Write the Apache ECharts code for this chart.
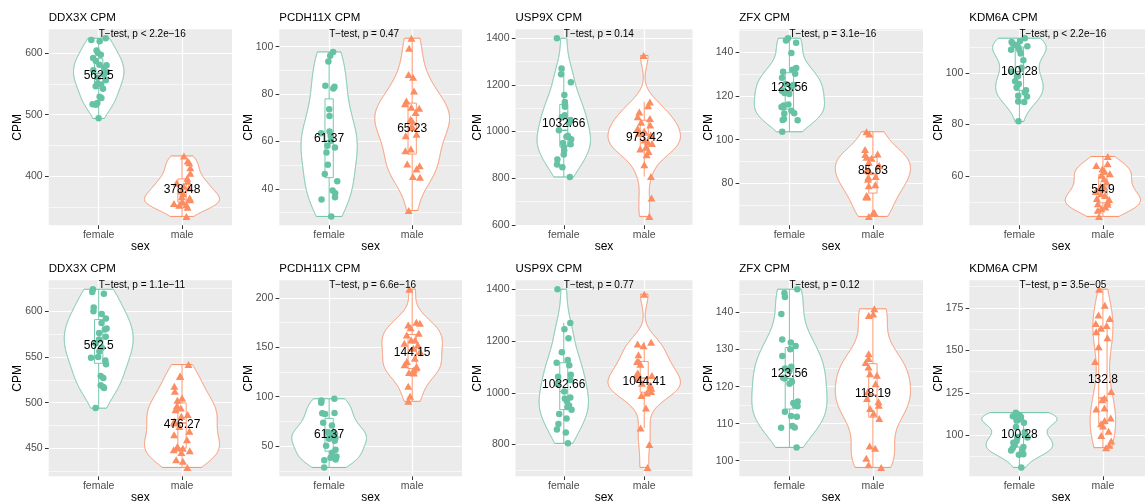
<!DOCTYPE html>
<html>
<head>
<meta charset="utf-8">
<script src="https://cdn.jsdelivr.net/npm/echarts@6/dist/echarts.min.js"></script>
<style>
  html, body { margin: 0; padding: 0; background: #ffffff; }
  #chart { width: 1145px; height: 502px; }
</style>
</head>
<body>
<div id="chart"></div>
<script>
// ---- data -------------------------------------------------------------
const genes = ['DDX3X', 'PCDH11X', 'USP9X', 'ZFX', 'KDM6A'];
const sexes = ['female', 'male'];

// female samples (shared by both rows)
const femaleDDX3X = [624, 621, 619, 604, 600, 597, 592, 587, 581, 580, 576, 572, 569, 565, 560, 556, 550, 549, 546, 542, 529, 527, 519, 517, 516, 494];
const femalePCDH11X = [97.8, 96.2, 93.8, 83.5, 83.1, 82.4, 73.6, 70.8, 64.2, 63.5, 62.4, 60.3, 58.2, 57.5, 55.4, 50.2, 46.3, 43.2, 39.3, 38.2, 36.5, 35.5, 28.4];
const femaleUSP9X = [1400, 1270, 1245, 1211, 1157, 1127, 1116, 1106, 1070, 1062, 1049, 1035, 1005, 982, 978, 967, 951, 945, 935, 918, 901, 880, 858, 847, 805];
const femaleZFX = [146.3, 145.3, 144.2, 139.6, 132.7, 131.9, 131, 130.1, 128.3, 125.4, 124.9, 124.2, 122.4, 122.2, 121.3, 120.8, 116, 115.6, 114.9, 114.7, 113.2, 112.1, 111.9, 109.4, 109, 108.9, 103.6];
const femaleKDM6A = [113.4, 112.3, 111.9, 111.3, 110.8, 110.3, 110, 108.9, 108.8, 107.5, 104.9, 102, 100.5, 98.8, 98.6, 96.7, 95.7, 94.3, 93.2, 92.4, 91.1, 90.8, 88.9, 88.7, 81.2];

// male samples, top row
const maleDDX3X_top = [433, 425, 422, 414, 405, 397, 392, 389, 384, 381, 376, 372, 367, 365, 362, 359, 358, 356, 354, 353, 350, 335];
const malePCDH11X_top = [103.6, 99.4, 88.3, 87.1, 81.3, 77.1, 75.9, 74.5, 74.0, 72.2, 69.4, 68.7, 66.6, 65.9, 63.1, 62.4, 56.8, 56.1, 50.5, 49.8, 48.4, 45.2, 44.9, 30.9];
const maleUSP9X_top = [1326, 1127, 1110, 1084, 1063, 1056, 1040, 1028, 1013, 1002, 992, 985, 964, 956, 949, 935, 925, 914, 900, 857, 807, 715, 636];
const maleZFX_top = [103.6, 102.6, 95.5, 93.5, 93.2, 92, 91.5, 89.7, 88.2, 86, 85.6, 83.2, 82.9, 82, 79.4, 79, 74.5, 74, 73.8, 66.8, 66.5, 65];
const maleKDM6A_top = [67.6, 64.8, 64.1, 62.8, 62.2, 60.9, 60.3, 59, 57.7, 56, 55.8, 54, 53.2, 52.5, 51.3, 50.9, 50, 49.3, 49.1, 48, 47.4, 46.8, 44.4];

// male samples, bottom row
const maleDDX3X_bottom = [541.6, 528.8, 528.8, 517.9, 512.4, 505, 502.6, 496.7, 494.2, 492.3, 486.9, 485, 479.6, 477.7, 474, 468.6, 465, 459.5, 452, 450.4, 450, 448.5, 447.4, 445.6, 437.6, 435.8, 429.2];
const malePCDH11X_bottom = [208.7, 175.2, 174.2, 172.5, 169.8, 164.1, 162.4, 157.4, 157.4, 154, 152.3, 149, 145.6, 138.9, 135.6, 132.2, 130, 128.9, 127, 124.5, 123.8, 110.4, 100.3, 95.3];
const maleUSP9X_bottom = [1380.7, 1195.6, 1188, 1181.5, 1146.8, 1121, 1121, 1110, 1076, 1069.7, 1067, 1057, 1037, 1030, 1020.8, 1018, 1005.4, 999, 990, 941, 864, 800, 712];
const maleZFX_bottom = [141, 139.6, 139.2, 128.9, 127.6, 126.5, 125.3, 123.5, 123.1, 120.8, 118.6, 116.8, 115.9, 115, 114.1, 112.8, 111.4, 104, 103.4, 100.7, 98.9, 98.2];
const maleKDM6A_bottom = [186, 176.6, 170.8, 168.8, 165.9, 164.6, 163, 161, 157.5, 152.2, 143.5, 125.9, 122, 121, 116.2, 115.6, 110.3, 108.8, 106.8, 105.5, 102.5, 100, 96.7, 94.2, 92.8];

// group means printed on the violins
const femaleMeans = [562.5, 61.37, 1032.66, 123.56, 100.28];
const maleMeansTop = [378.48, 65.23, 973.42, 85.63, 54.9];
const maleMeansBottom = [476.27, 144.15, 1044.41, 118.19, 132.8];

// t-test annotations
const pLabelsTop = ['T\u2212test, p < 2.2e\u221216', 'T\u2212test, p = 0.47', 'T\u2212test, p = 0.14', 'T\u2212test, p = 3.1e\u221216', 'T\u2212test, p < 2.2e\u221216'];
const pLabelsBottom = ['T\u2212test, p = 1.1e\u221211', 'T\u2212test, p = 6.6e\u221216', 'T\u2212test, p = 0.77', 'T\u2212test, p = 0.12', 'T\u2212test, p = 3.5e\u221205'];

// y tick labels
const yTicksTop = [[400, 500, 600], [40, 60, 80, 100], [600, 800, 1000, 1200, 1400], [80, 100, 120, 140], [60, 80, 100]];
const yTicksBottom = [[450, 500, 550, 600], [50, 100, 150, 200], [800, 1000, 1200, 1400], [100, 110, 120, 130, 140], [100, 125, 150, 175]];

// ---- layout & style ----------------------------------------------------
const COLORS = ['#66C2A5', '#FC8D62'];
const plotLeft = [48.7, 279.3, 515.5, 739.3, 969.3];
const plotRight = [232, 462, 692.5, 923, 1153];
const rowTop = [29.3, 280.3];
const plotH = 196;
const FONT = '"Liberation Sans", Arial, Helvetica, sans-serif';

const femaleRows = [femaleDDX3X, femalePCDH11X, femaleUSP9X, femaleZFX, femaleKDM6A];
const maleRows = [
  [maleDDX3X_top, malePCDH11X_top, maleUSP9X_top, maleZFX_top, maleKDM6A_top],
  [maleDDX3X_bottom, malePCDH11X_bottom, maleUSP9X_bottom, maleZFX_bottom, maleKDM6A_bottom]
];
const maleMeans = [maleMeansTop, maleMeansBottom];
const pLabels = [pLabelsTop, pLabelsBottom];
const yTicks = [yTicksTop, yTicksBottom];

// ---- statistics (R conventions) ----------------------------------------
function sorted(a) { return a.slice().sort((p, q) => p - q); }
function quantile7(s, p) {
  const h = (s.length - 1) * p, l = Math.floor(h), u = Math.ceil(h);
  return s[l] + (h - l) * (s[u] - s[l]);
}
function stdev(a) {
  const m = a.reduce((x, y) => x + y, 0) / a.length;
  return Math.sqrt(a.reduce((x, y) => x + (y - m) * (y - m), 0) / (a.length - 1));
}
function bwNrd0(a) {
  const s = sorted(a);
  let lo = Math.min(stdev(a), (quantile7(s, 0.75) - quantile7(s, 0.25)) / 1.34);
  if (!(lo > 0)) lo = stdev(a) || 1;
  return 0.9 * lo * Math.pow(a.length, -0.2);
}
// gaussian kernel density on 512 points, trimmed to the data range
function density(a) {
  const s = sorted(a), bw = bwNrd0(a), n = 512, lo = s[0], hi = s[s.length - 1];
  const k = 1 / (a.length * bw * Math.sqrt(2 * Math.PI));
  const out = [];
  for (let i = 0; i < n; i++) {
    const y = lo + (hi - lo) * i / (n - 1);
    let d = 0;
    for (const v of a) { const z = (y - v) / bw; d += Math.exp(-0.5 * z * z); }
    out.push([y, d * k]);
  }
  return out;
}
function boxStats(a) {
  const s = sorted(a);
  const q1 = quantile7(s, 0.25), med = quantile7(s, 0.5), q3 = quantile7(s, 0.75);
  const r = 1.5 * (q3 - q1);
  const inside = s.filter(v => v >= q1 - r && v <= q3 + r);
  return { q1, med, q3, lo: inside[0], hi: inside[inside.length - 1] };
}
// sideways spread of the points inside a +-0.1 band around the category
function jitter(i, seed) {
  const h = Math.sin((i + 1) * 12.9898 + seed * 78.233) * 43758.5453;
  return (h - Math.floor(h) - 0.5) * 0.2;
}

// ---- option -------------------------------------------------------------
const option = { animation: false, title: [], grid: [], xAxis: [], yAxis: [], series: [] };

for (let r = 0; r < 2; r++) {
  for (let c = 0; c < 5; c++) {
    const k = r * 5 + c;
    const groups = [femaleRows[c], maleRows[r][c]];
    const means = [femaleMeans[c], maleMeans[r][c]];
    const ticks = yTicks[r][c];
    const all = groups[0].concat(groups[1]);
    const lo = Math.min(...all), hi = Math.max(...all), pad = (hi - lo) * 0.05;
    const yMin = lo - pad, yMax = hi + pad;
    const step = ticks[1] - ticks[0];
    const minor = [ticks[0] - step / 2].concat(ticks.map(t => t + step / 2));
    const labelChars = Math.max(...ticks.map(t => String(t).length));

    // violin outlines, area-scaled across the panel (width 0.9)
    const dens = groups.map(density);
    const maxD = Math.max(...dens.map(d => Math.max(...d.map(p => p[1]))));
    const violins = dens.map((d, g) => {
      const x = g + 1;
      const right = d.map(([y, v]) => [x + 0.45 * v / maxD, y]);
      const left = d.slice().reverse().map(([y, v]) => [x - 0.45 * v / maxD, y]);
      return right.concat(left);
    });
    const boxes = groups.map(boxStats);

    option.title.push({
      text: genes[c] + ' CPM', left: plotLeft[c], top: rowTop[r] - 18, padding: 0,
      textStyle: { fontSize: 11.5, fontWeight: 'normal', color: '#000', fontFamily: FONT, lineHeight: 14 }
    });
    option.grid.push({
      left: plotLeft[c], top: rowTop[r], width: plotRight[c] - plotLeft[c], height: plotH,
      show: true, backgroundColor: '#EBEBEB', borderWidth: 0, containLabel: false, outerBoundsMode: 'none'
    });
    option.xAxis.push({
      type: 'value', gridIndex: k, min: 0.4, max: 2.6,
      name: 'sex', nameLocation: 'middle', nameGap: 15, nameMoveOverlap: false,
      nameTextStyle: { fontSize: 12, color: '#000', fontFamily: FONT },
      axisLine: { show: false },
      axisTick: { show: true, customValues: [1, 2], length: 3.7, lineStyle: { color: '#333', width: 1 } },
      axisLabel: { customValues: [1, 2], formatter: v => sexes[Math.round(v) - 1], fontSize: 10.5, color: '#4D4D4D', margin: 4, fontFamily: FONT },
      splitLine: { show: true, lineStyle: { color: '#FFFFFF', width: 1.2 } }
    });
    option.yAxis.push({
      type: 'value', gridIndex: k, min: yMin, max: yMax, position: 'left',
      name: 'CPM', nameLocation: 'middle', nameRotate: 90, nameGap: 7 * labelChars + 4, nameMoveOverlap: false,
      nameTextStyle: { fontSize: 12, color: '#000', fontFamily: FONT },
      axisLine: { show: false },
      axisTick: { show: true, customValues: ticks, length: 3.7, lineStyle: { color: '#333', width: 1 } },
      axisLabel: { customValues: ticks, formatter: v => String(v), fontSize: 10.5, color: '#4D4D4D', margin: 6, fontFamily: FONT },
      splitLine: { show: true, lineStyle: { color: '#FFFFFF', width: 1.2 } }
    });
    option.yAxis.push({
      type: 'value', gridIndex: k, min: yMin, max: yMax, position: 'left',
      axisLine: { show: false },
      axisTick: { show: false, customValues: minor },
      axisLabel: { show: false, customValues: minor },
      splitLine: { show: true, lineStyle: { color: '#FFFFFF', width: 0.6 } }
    });
    const ax = { xAxisIndex: k, yAxisIndex: 2 * k };

    // violins
    option.series.push(Object.assign({
      type: 'custom', silent: true, z: 2,
      data: [[1, means[0]], [2, means[1]]],
      renderItem: (params, api) => ({
        type: 'polygon',
        shape: { points: violins[params.dataIndex].map(p => api.coord(p)) },
        style: { fill: '#FFFFFF', stroke: COLORS[params.dataIndex], lineWidth: 1 }
      })
    }, ax));

    // narrow boxplots
    option.series.push(Object.assign({
      type: 'custom', silent: true, z: 3,
      data: [[1, means[0]], [2, means[1]]],
      renderItem: (params, api) => {
        const g = params.dataIndex, b = boxes[g], x = g + 1, hw = 0.05, col = COLORS[g];
        const tl = api.coord([x - hw, b.q3]), br = api.coord([x + hw, b.q1]);
        const m = api.coord([x, b.med]), up = api.coord([x, b.hi]), dn = api.coord([x, b.lo]);
        const ln = (x1, y1, x2, y2, w) => ({ type: 'line', shape: { x1, y1, x2, y2 }, style: { stroke: col, lineWidth: w } });
        return {
          type: 'group',
          children: [
            ln(m[0], tl[1], up[0], up[1], 0.9),
            ln(m[0], br[1], dn[0], dn[1], 0.9),
            { type: 'rect', shape: { x: tl[0], y: tl[1], width: br[0] - tl[0], height: br[1] - tl[1] },
              style: { fill: 'none', stroke: col, lineWidth: 0.9 } },
            ln(tl[0], m[1], br[0], m[1], 1.4)
          ]
        };
      }
    }, ax));

    // jittered samples
    option.series.push(Object.assign({
      type: 'scatter', silent: true, z: 4, symbol: 'circle', symbolSize: 6.5,
      itemStyle: { color: COLORS[0], opacity: 1 },
      data: groups[0].map((v, i) => [1 + jitter(i, k), v])
    }, ax));
    option.series.push(Object.assign({
      type: 'scatter', silent: true, z: 4, symbol: 'triangle', symbolSize: [8, 7],
      itemStyle: { color: COLORS[1], opacity: 1 },
      data: groups[1].map((v, i) => [2 + jitter(i, k + 17), v])
    }, ax));

    // mean values and t-test text
    const texts = [String(means[0]), String(means[1]), pLabels[r][c]];
    option.series.push(Object.assign({
      type: 'custom', silent: true, z: 5,
      data: [[1, means[0]], [2, means[1]], [1, hi]],
      renderItem: (params, api) => {
        const i = params.dataIndex;
        const p = api.coord([api.value(0), api.value(1)]);
        const isP = i === 2;
        return {
          type: 'text', x: p[0], y: isP ? p[1] - 4 : p[1],
          style: {
            text: texts[i], fill: '#000000', fontFamily: FONT,
            fontSize: isP ? 10 : 12,
            align: isP ? 'left' : 'center', verticalAlign: 'middle'
          }
        };
      }
    }, ax));
  }
}

const chart = echarts.init(document.getElementById('chart'), null, { renderer: 'canvas' });
chart.setOption(option);
</script>
</body>
</html>
